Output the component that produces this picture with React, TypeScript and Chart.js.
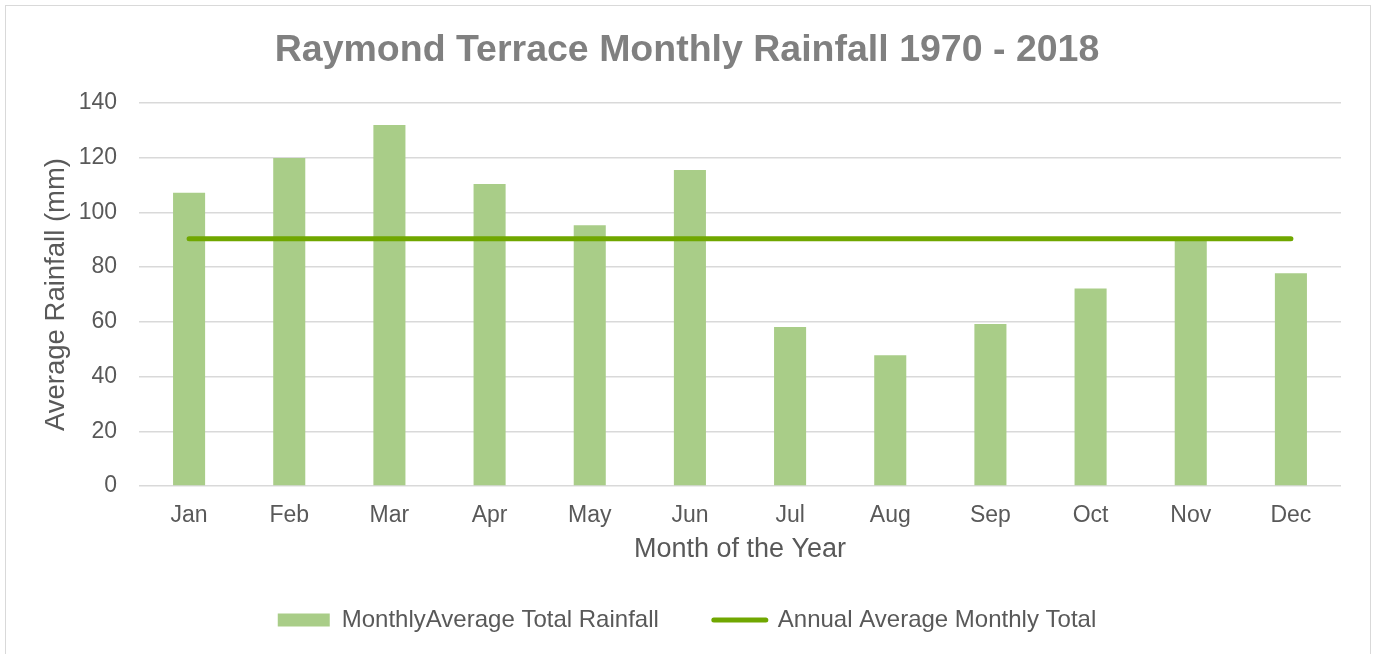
import React, { useEffect, useRef } from "react";
import { Chart, registerables } from "chart.js";

Chart.register(...registerables);

const months = ["Jan", "Feb", "Mar", "Apr", "May", "Jun", "Jul", "Aug", "Sep", "Oct", "Nov", "Dec"];
const monthlyRainfall = [107.2, 119.9, 132.0, 110.4, 95.3, 115.5, 58.1, 47.8, 59.2, 72.2, 91.0, 77.8];
const annualAverage = [90.4, 90.4, 90.4, 90.4, 90.4, 90.4, 90.4, 90.4, 90.4, 90.4, 90.4, 90.4];
const yTicks = [0, 20, 40, 60, 80, 100, 120, 140];

const FONT = '"Liberation Sans", Arial, sans-serif';
const TEXT = "#595959";
const BAR_COLOR = "#A9CD88";
const LINE_COLOR = "#70A700";

export default function App() {
  const ref = useRef<HTMLCanvasElement | null>(null);

  useEffect(() => {
    if (!ref.current) return;
    const chart = new Chart(ref.current, {
      type: "bar",
      data: {
        labels: months,
        datasets: [
          {
            type: "bar",
            label: "MonthlyAverage Total Rainfall",
            data: monthlyRainfall,
            backgroundColor: BAR_COLOR,
            borderWidth: 0,
            barPercentage: 0.32,
            categoryPercentage: 1,
            order: 2,
          },
          {
            type: "line",
            label: "Annual Average Monthly Total",
            data: annualAverage,
            borderColor: LINE_COLOR,
            backgroundColor: LINE_COLOR,
            borderWidth: 5,
            borderCapStyle: "round",
            pointRadius: 0,
            pointHoverRadius: 0,
            fill: false,
            order: 1,
          },
        ],
      },
      options: {
        responsive: false,
        animation: false,
        devicePixelRatio: 1,
        layout: { padding: { left: 33, right: 33, top: 0, bottom: 12 } },
        plugins: {
          tooltip: { enabled: false },
          title: {
            display: true,
            text: "Raymond Terrace Monthly Rainfall 1970 - 2018",
            color: "#808080",
            font: { family: FONT, size: 37.5, weight: "bold" },
            padding: { top: 28, bottom: 30 },
          },
          legend: {
            display: true,
            position: "bottom",
            labels: {
              color: TEXT,
              font: { family: FONT, size: 24 },
              usePointStyle: true,
              pointStyleWidth: 52,
              boxHeight: 13,
              padding: 55,
              generateLabels: (c: any) => {
                const items = Chart.defaults.plugins.legend.labels.generateLabels(c);
                items.sort((a: any, b: any) => a.datasetIndex - b.datasetIndex);
                return items.map((it: any) => {
                  const isBar = it.datasetIndex === 0;
                  return {
                    ...it,
                    pointStyle: isBar ? "rect" : "line",
                    lineWidth: isBar ? 0 : 5,
                    lineCap: "round",
                    fillStyle: isBar ? BAR_COLOR : LINE_COLOR,
                    strokeStyle: isBar ? BAR_COLOR : LINE_COLOR,
                  };
                });
              },
            },
          },
        },
        scales: {
          x: {
            grid: { display: false, drawTicks: false },
            border: { display: false },
            ticks: { color: TEXT, font: { family: FONT, size: 23 }, padding: 16 },
            title: {
              display: true,
              text: "Month of the Year",
              color: TEXT,
              font: { family: FONT, size: 27 },
              padding: { top: 0, bottom: -13 },
            },
            afterFit: (s: any) => {
              s.height = 67;
            },
          },
          y: {
            min: 0,
            max: 140,
            afterBuildTicks: (s: any) => {
              s.ticks = yTicks.map((v) => ({ value: v }));
            },
            grid: { color: "#D9D9D9", lineWidth: 1.5, drawTicks: false },
            border: { display: false },
            ticks: { color: TEXT, font: { family: FONT, size: 23 }, padding: 22 },
            title: {
              display: true,
              text: "Average Rainfall (mm)",
              color: TEXT,
              font: { family: FONT, size: 27.5 },
              padding: { top: 7, bottom: 0 },
            },
            afterFit: (s: any) => {
              s.width = 106;
            },
          },
        },
      },
    } as any);
    return () => chart.destroy();
  }, []);

  return (
    <div style={{ position: "absolute", left: 0, top: 0, width: 1374, height: 654, overflow: "hidden", background: "#fff" }}>
      <div
        style={{
          position: "absolute",
          left: 5,
          top: 5,
          width: 1366,
          height: 700,
          border: "1.5px solid #D9D9D9",
          boxSizing: "border-box",
        }}
      />
      <canvas ref={ref} width={1374} height={654} style={{ position: "absolute", left: 0, top: 0, display: "block" }} />
    </div>
  );
}
